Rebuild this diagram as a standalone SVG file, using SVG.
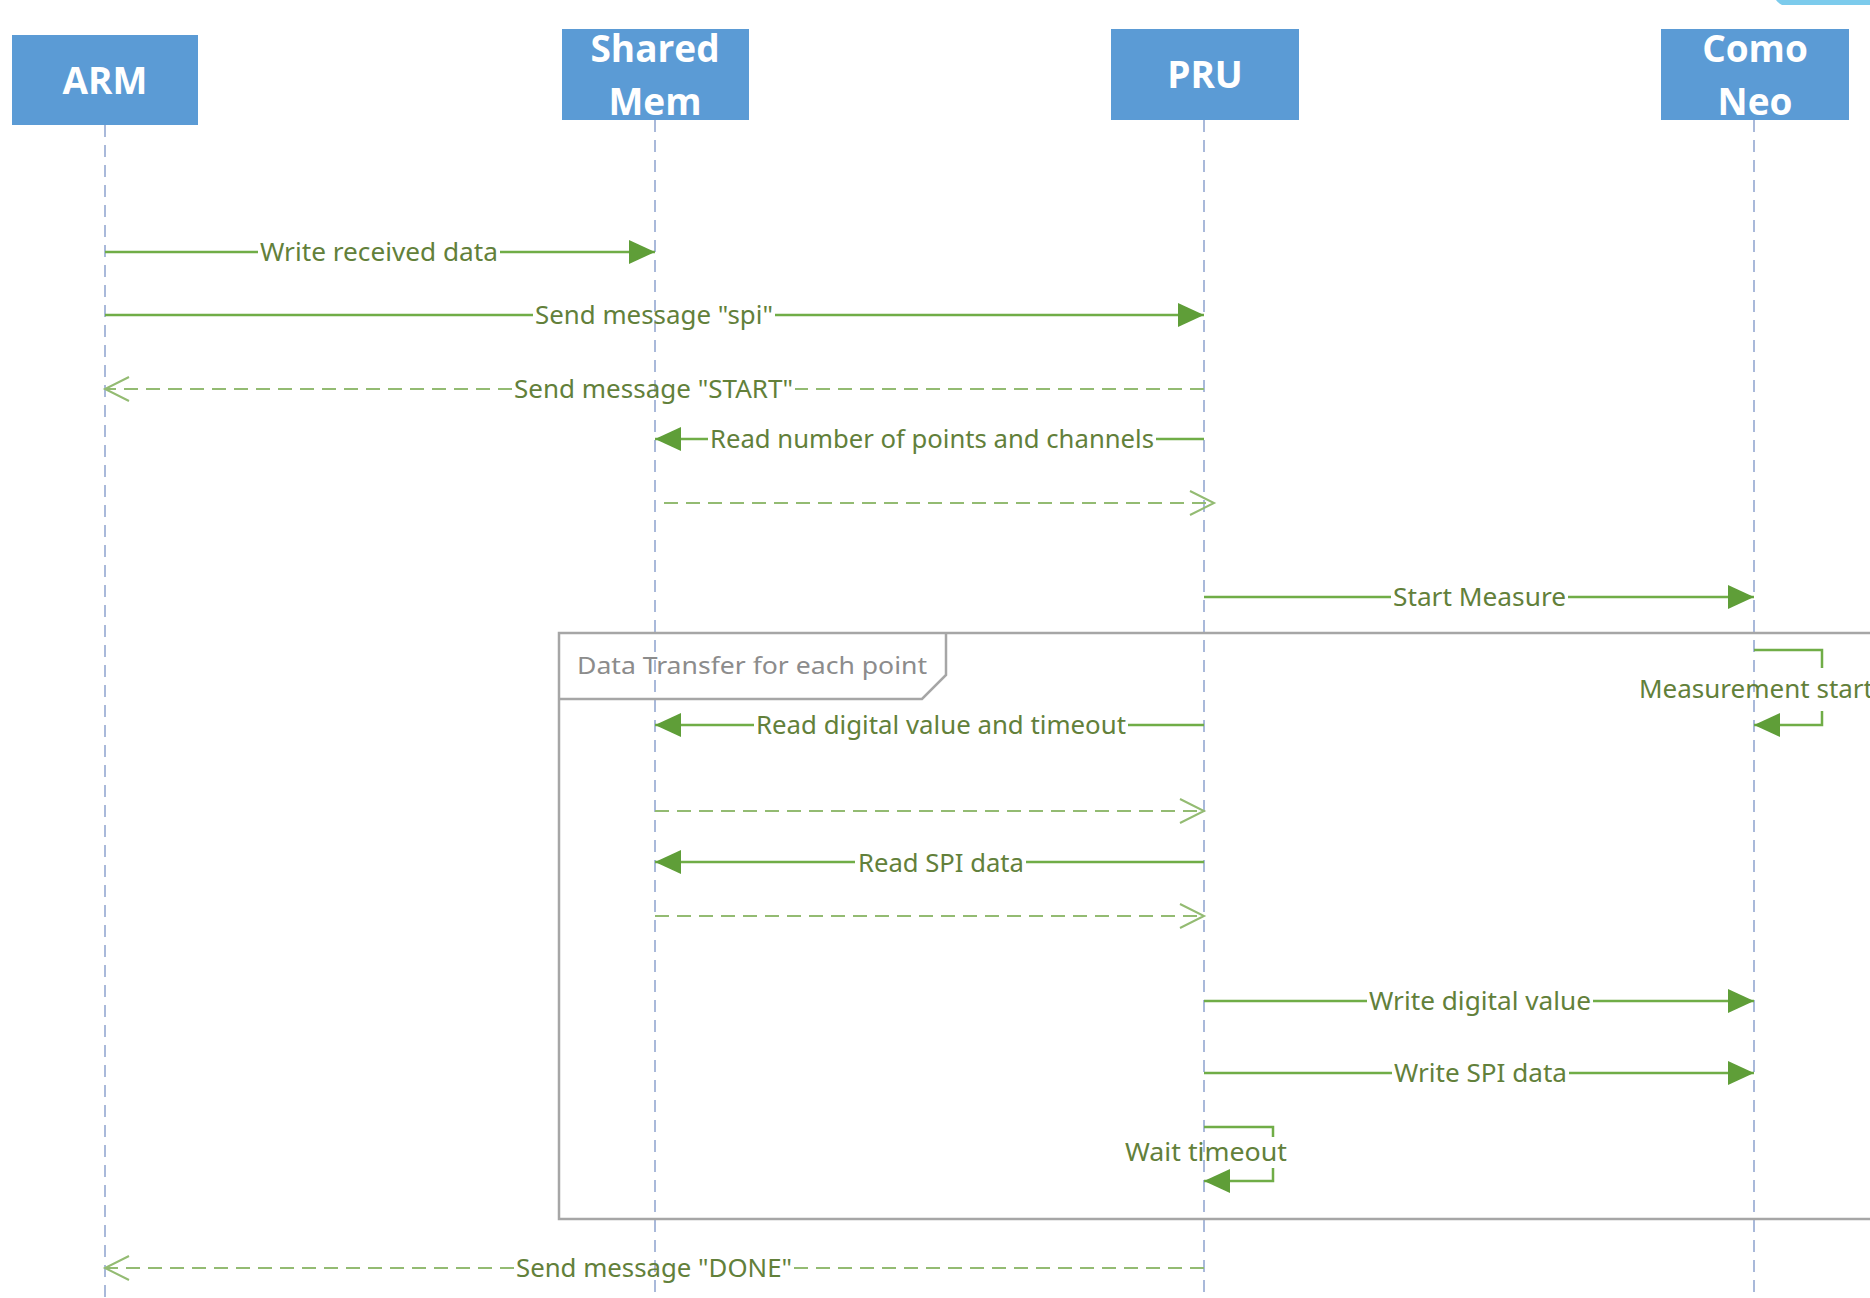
<svg xmlns="http://www.w3.org/2000/svg" width="1870" height="1298" viewBox="0 0 1870 1298">
<style>
.box{fill:#5b9bd5;}
.bt{font-family:"Open Sans","Liberation Sans",sans-serif;font-weight:bold;font-size:37px;fill:#ffffff;text-anchor:middle;}
.life{stroke:#a9b9da;stroke-width:2;stroke-dasharray:12 8;fill:none;}
.msg{stroke:#70ad47;stroke-width:2.5;fill:none;}
.ret{stroke:#93bb72;stroke-width:2;stroke-dasharray:14 8;fill:none;}
.lbl{font-family:"Noto Sans","Open Sans","Liberation Sans",sans-serif;font-size:25px;fill:#62803a;}
.frame{stroke:#a6a6a6;stroke-width:2.5;fill:none;}
.ftxt{font-family:"Noto Sans","Open Sans","Liberation Sans",sans-serif;font-size:23px;fill:#8c8c8c;}
</style>
<defs>
<marker id="fa" markerUnits="userSpaceOnUse" markerWidth="26" markerHeight="24" refX="26" refY="12" orient="auto" overflow="visible">
<path d="M0,0 L26,12 L0,24 Z" fill="#5f9e38"/>
</marker>
<marker id="oa" markerUnits="userSpaceOnUse" markerWidth="28" markerHeight="26" refX="26" refY="13" orient="auto" overflow="visible">
<path d="M2,1 L26,13 L2,25" fill="none" stroke="#93bb72" stroke-width="2"/>
</marker>
</defs>
<rect width="1870" height="1298" fill="#ffffff"/>
<path d="M1776,0 H1870 V5 H1782 Q1778,3 1776,0 Z" fill="#7ccbec"/>

<g id="lifelines">
<line class="life" x1="105" y1="125" x2="105" y2="1298"/>
<line class="life" x1="655" y1="120" x2="655" y2="1298"/>
<line class="life" x1="1204" y1="120" x2="1204" y2="1298"/>
<line class="life" x1="1754" y1="120" x2="1754" y2="1298"/>
</g>

<g id="node-arm">
<rect class="box" x="12" y="35" width="186" height="90"/>
<text class="bt" x="105" y="94">ARM</text>
</g>
<g id="node-sharedmem">
<rect class="box" x="562" y="29" width="187" height="91"/>
<text class="bt" x="655" y="62">Shared</text>
<text class="bt" x="655" y="115">Mem</text>
</g>
<g id="node-pru">
<rect class="box" x="1111" y="29" width="188" height="91"/>
<text class="bt" x="1205" y="88">PRU</text>
</g>
<g id="node-comoneo">
<rect class="box" x="1661" y="29" width="188" height="91"/>
<text class="bt" x="1755" y="62">Como</text>
<text class="bt" x="1755" y="115">Neo</text>
</g>

<g id="frame-loop">
<path class="frame" d="M1880,633 H559 V1219 H1880"/>
<path class="frame" d="M559,699 H922 L946,675 V633"/>
<text class="ftxt" x="577" y="674" textLength="350" lengthAdjust="spacingAndGlyphs">Data Transfer for each point</text>
</g>

<g id="connectors">
<line class="msg" x1="105" y1="252" x2="258" y2="252"/>
<line class="msg" x1="500" y1="252" x2="655" y2="252" marker-end="url(#fa)"/>
<text class="lbl" x="260" y="261" textLength="238" lengthAdjust="spacingAndGlyphs">Write received data</text>
<line class="msg" x1="105" y1="315" x2="533" y2="315"/>
<line class="msg" x1="775" y1="315" x2="1204" y2="315" marker-end="url(#fa)"/>
<text class="lbl" x="535" y="324" textLength="238" lengthAdjust="spacingAndGlyphs">Send message "spi"</text>
<line class="ret" x1="1204" y1="389" x2="795" y2="389"/>
<line class="ret" x1="512" y1="389" x2="105" y2="389" marker-end="url(#oa)"/>
<text class="lbl" x="514" y="398" textLength="279" lengthAdjust="spacingAndGlyphs">Send message "START"</text>
<line class="msg" x1="1204" y1="439" x2="1156" y2="439"/>
<line class="msg" x1="708" y1="439" x2="655" y2="439" marker-end="url(#fa)"/>
<text class="lbl" x="710" y="448" textLength="444" lengthAdjust="spacingAndGlyphs">Read number of points and channels</text>
<line class="ret" x1="664" y1="503" x2="1214" y2="503" marker-end="url(#oa)"/>
<line class="msg" x1="1204" y1="597" x2="1391" y2="597"/>
<line class="msg" x1="1568" y1="597" x2="1754" y2="597" marker-end="url(#fa)"/>
<text class="lbl" x="1393" y="606" textLength="173" lengthAdjust="spacingAndGlyphs">Start Measure</text>
<path class="msg" d="M1754,650 H1822 V668"/>
<path class="msg" d="M1822,711 V725 H1754" marker-end="url(#fa)"/>
<text class="lbl" x="1639" y="698" textLength="234" lengthAdjust="spacingAndGlyphs">Measurement start</text>
<line class="msg" x1="1204" y1="725" x2="1128" y2="725"/>
<line class="msg" x1="754" y1="725" x2="655" y2="725" marker-end="url(#fa)"/>
<text class="lbl" x="756" y="734" textLength="370" lengthAdjust="spacingAndGlyphs">Read digital value and timeout</text>
<line class="ret" x1="655" y1="811" x2="1204" y2="811" marker-end="url(#oa)"/>
<line class="msg" x1="1204" y1="862" x2="1026" y2="862"/>
<line class="msg" x1="855" y1="862" x2="655" y2="862" marker-end="url(#fa)"/>
<text class="lbl" x="858" y="872" textLength="166" lengthAdjust="spacingAndGlyphs">Read SPI data</text>
<line class="ret" x1="655" y1="916" x2="1204" y2="916" marker-end="url(#oa)"/>
<line class="msg" x1="1204" y1="1001" x2="1367" y2="1001"/>
<line class="msg" x1="1593" y1="1001" x2="1754" y2="1001" marker-end="url(#fa)"/>
<text class="lbl" x="1369" y="1010" textLength="222" lengthAdjust="spacingAndGlyphs">Write digital value</text>
<line class="msg" x1="1204" y1="1073" x2="1392" y2="1073"/>
<line class="msg" x1="1569" y1="1073" x2="1754" y2="1073" marker-end="url(#fa)"/>
<text class="lbl" x="1394" y="1082" textLength="173" lengthAdjust="spacingAndGlyphs">Write SPI data</text>
<path class="msg" d="M1204,1127 H1273 V1137"/>
<path class="msg" d="M1273,1168 V1181 H1204" marker-end="url(#fa)"/>
<text class="lbl" x="1125" y="1161" textLength="162" lengthAdjust="spacingAndGlyphs">Wait timeout</text>
<line class="ret" x1="1204" y1="1268" x2="794" y2="1268"/>
<line class="ret" x1="514" y1="1268" x2="105" y2="1268" marker-end="url(#oa)"/>
<text class="lbl" x="516" y="1277" textLength="276" lengthAdjust="spacingAndGlyphs">Send message "DONE"</text>
</g>
</svg>
